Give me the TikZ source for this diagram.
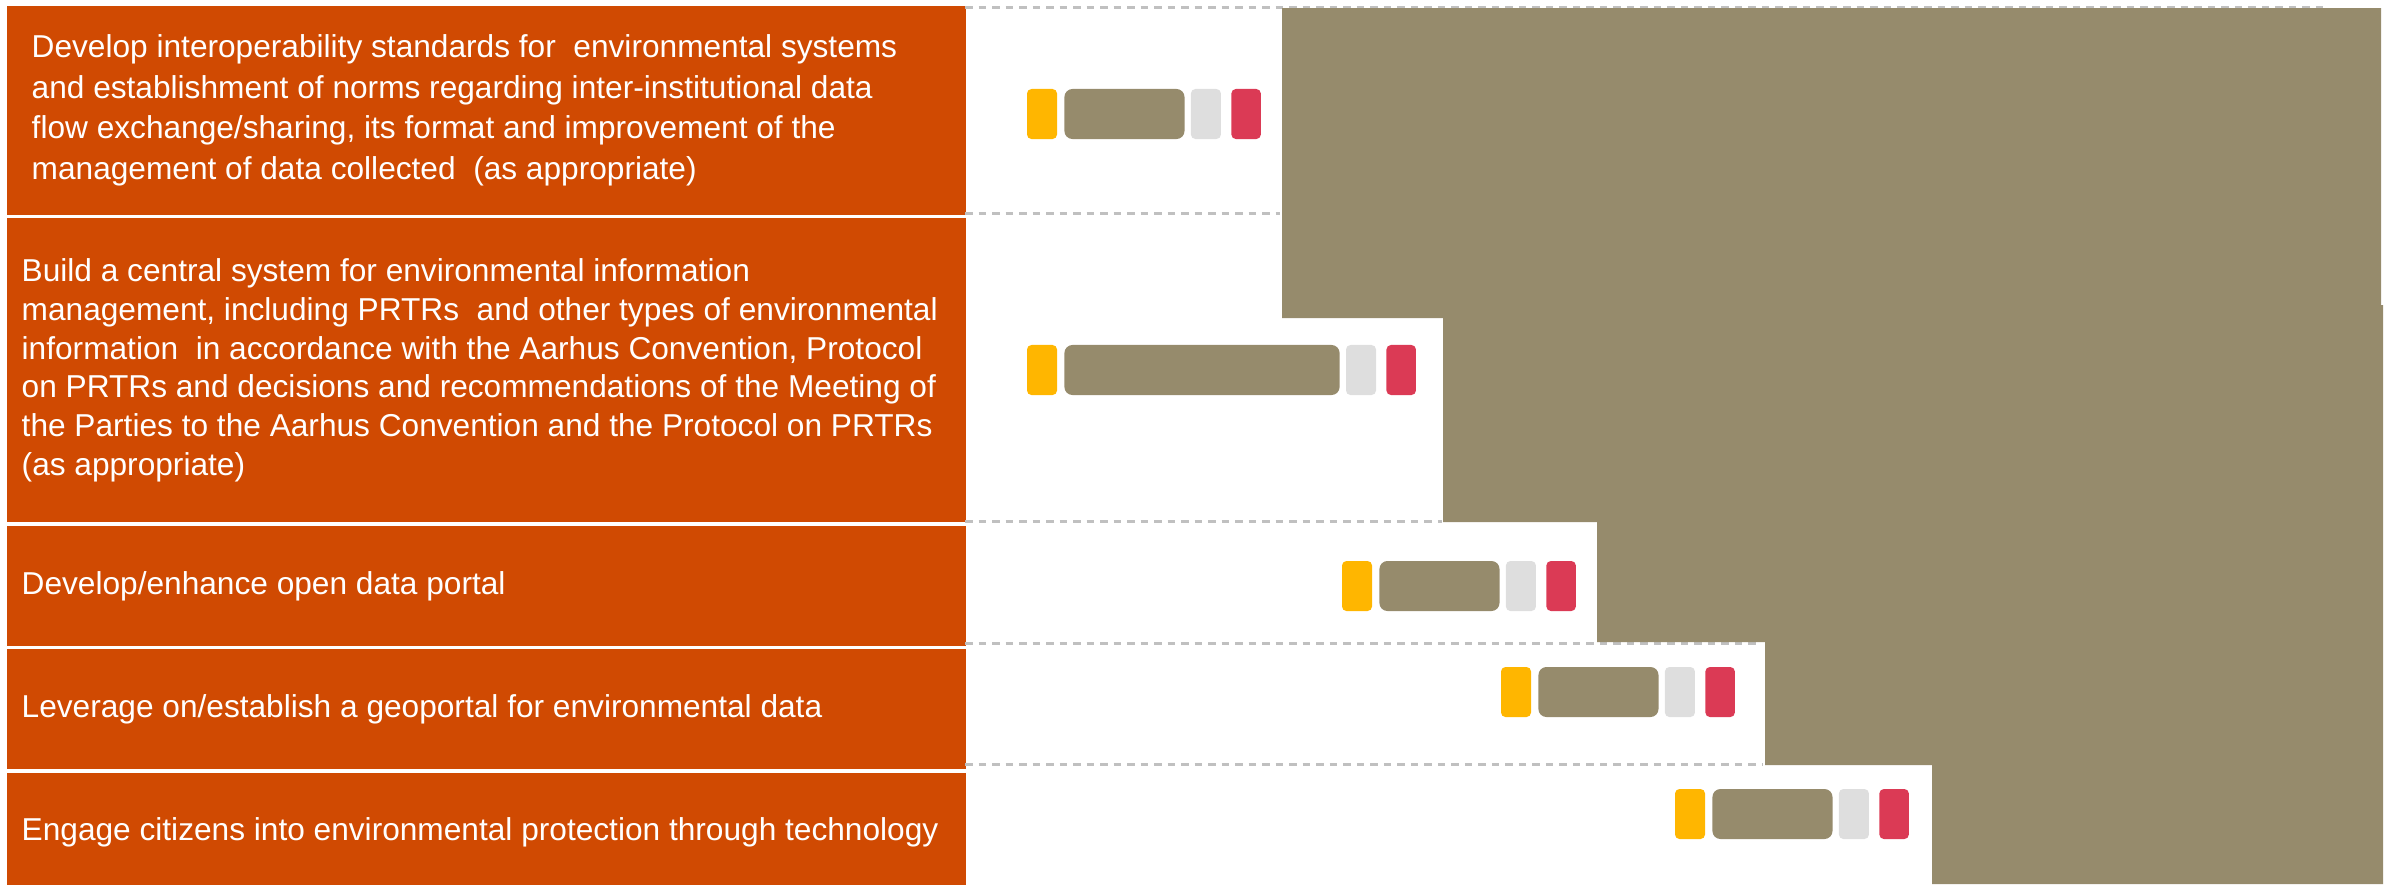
\documentclass[tikz,border=0pt]{standalone}
\usepackage{fontspec}
\setmainfont{Liberation Sans}
\usetikzlibrary{positioning}

\definecolor{pwcorange}{HTML}{D04A02}
\definecolor{pwctan}{HTML}{968B6C}
\definecolor{pwcyellow}{HTML}{FFB600}
\definecolor{pwcgrey}{HTML}{DEDEDE}
\definecolor{pwcrose}{HTML}{DB3A55}
\definecolor{sepgrey}{HTML}{C0C0C0}

\tikzset{
  taskbox/.style={fill=pwcorange,inner sep=0pt,minimum width=9.59cm},
  tasktext/.style={text=white,align=left,inner sep=0pt,font=\fontsize{9}{11.6}\selectfont},
  bar/.style={inner sep=0pt,minimum height=5mm,rounded corners=0.45mm},
  ybar/.style={bar,fill=pwcyellow,minimum width=3mm},
  tbar/.style={bar,fill=pwctan,minimum width=#1,rounded corners=0.8mm},
  tbar/.default=12mm,
  gbar/.style={bar,fill=pwcgrey,minimum width=3mm},
  rbar/.style={bar,fill=pwcrose,minimum width=2.95mm},
  sepline/.style={draw=sepgrey,line width=0.3mm,dash pattern=on 0.75mm off 0.6mm}
}

\begin{document}
\begin{tikzpicture}[x=0.01cm,y=-0.01cm]
\useasboundingbox (0,0) rectangle (2395,884);

% task boxes
\node[taskbox,minimum height=2.09cm,anchor=north west] (row1) at (6,5) {};
\node[taskbox,minimum height=3.04cm,below=0.02cm of row1] (row2) {};
\node[taskbox,minimum height=1.20cm,below=0.02cm of row2] (row3) {};
\node[taskbox,minimum height=1.20cm,below=0.02cm of row3] (row4) {};
\node[taskbox,minimum height=1.18cm,below=0.02cm of row4] (row5) {};

\node[tasktext,right=0.25cm of row1.west] (txt1) {Develop interoperability standards for\ \ environmental systems\\
  and establishment of norms regarding inter-institutional data\\
  flow exchange/sharing, its format and improvement of the\\
  management of data collected\ \ (as appropriate)};
\node[tasktext,font=\fontsize{9}{11}\selectfont,right=0.15cm of row2.west] (txt2) {Build a central system for environmental information\\
  management, including PRTRs\ \ and other types of environmental\\
  information\ \ in accordance with the Aarhus Convention, Protocol\\
  on PRTRs and decisions and recommendations of the Meeting of\\
  the Parties to the Aarhus Convention and the Protocol on PRTRs\\
  (as appropriate)};
\node[tasktext,right=0.15cm of row3.west] (txt3) {Develop/enhance open data portal};
\node[tasktext,right=0.15cm of row4.west] (txt4) {Leverage on/establish a geoportal for environmental data};
\node[tasktext,right=0.15cm of row5.west] (txt5) {Engage citizens into environmental protection through technology};

% row separators
\draw[sepline] (965,7) -- (2329,7);
\draw[sepline] (965,213) -- (1280,213);
\draw[sepline] (965,521) -- (1442,521);
\draw[sepline] (965,643) -- (1758,643);
\draw[sepline] (965,764) -- (1762,764);

% staircase
\fill[pwctan] (1282,8) -- (2381,8) -- (2381,305) -- (2383,305) -- (2383,884)
  -- (1932,884) -- (1932,765) -- (1765,765) -- (1765,642) -- (1597,642)
  -- (1597,522) -- (1443,522) -- (1443,318) -- (1282,318) -- cycle;

% bars
\node[ybar] (y1) at (1042,114) {};
\node[tbar,right=0.6mm of y1] (t1) {};
\node[gbar,right=0.5mm of t1] (g1) {};
\node[rbar,right=0.9mm of g1] (r1) {};

\node[ybar] (y2) at (1042,370) {};
\node[tbar=27.5mm,right=0.6mm of y2] (t2) {};
\node[gbar,right=0.5mm of t2] (g2) {};
\node[rbar,right=0.9mm of g2] (r2) {};

\node[ybar] (y3) at (1357,586) {};
\node[tbar,right=0.6mm of y3] (t3) {};
\node[gbar,right=0.5mm of t3] (g3) {};
\node[rbar,right=0.9mm of g3] (r3) {};

\node[ybar] (y4) at (1516,692) {};
\node[tbar,right=0.6mm of y4] (t4) {};
\node[gbar,right=0.5mm of t4] (g4) {};
\node[rbar,right=0.9mm of g4] (r4) {};

\node[ybar] (y5) at (1690,814) {};
\node[tbar,right=0.6mm of y5] (t5) {};
\node[gbar,right=0.5mm of t5] (g5) {};
\node[rbar,right=0.9mm of g5] (r5) {};
\end{tikzpicture}
\end{document}
